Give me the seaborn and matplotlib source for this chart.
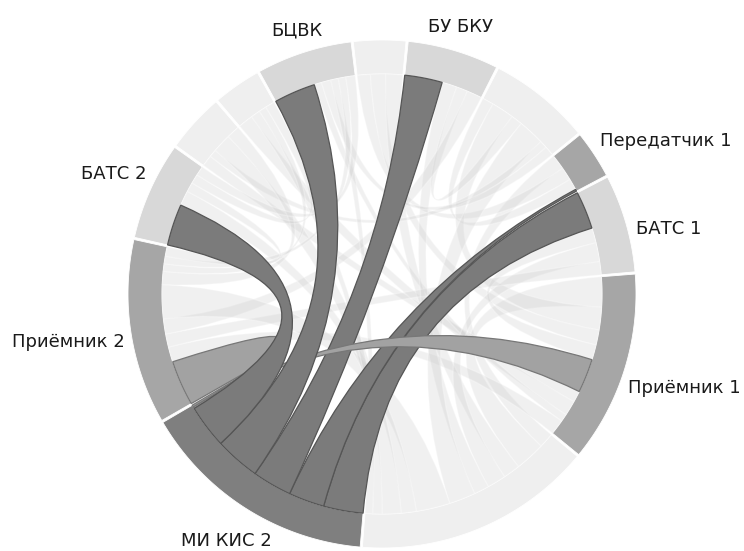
import numpy as np
import matplotlib
matplotlib.use("Agg")
import matplotlib.pyplot as plt
from matplotlib.path import Path
from matplotlib.patches import PathPatch, Polygon
import seaborn as sns

# groups, clockwise from the top (unnamed ones are the faded, unlabelled sectors)
groups = ["", "БУ БКУ", "", "Передатчик 1", "БАТС 1", "Приёмник 1", "",
          "МИ КИС 2", "Приёмник 2", "БАТС 2", "", "", "БЦВК"]
group_shade = ["light", "light", "light", "medium", "light", "medium", "light",
               "dark", "medium", "light", "light", "light", "light"]
focus = "МИ КИС 2"

# links: source group, target group, width at source end, width at target end
link_src = [7, 3, 3, 3, 7, 7, 7, 5, 5, 5, 5, 7, 5, 8,
            5, 5, 5, 5, 0, 4, 4, 1, 1, 1, 2, 2, 2,
            6, 6, 6, 6, 6, 8, 8, 8, 8, 9, 9]
link_dst = [4, 6, 0, 2, 3, 1, 12, 6, 2, 0, 4, 9, 7, 7,
            10, 11, 12, 8, 6, 6, 8, 6, 2, 8, 6, 10, 12,
            8, 9, 10, 11, 12, 10, 11, 12, 9, 11, 12]
link_w_src = [10.5, 4, 3.5, 3, 9.5, 10.5, 12, 8, 6, 4, 4, 11.5, 9, 12,
              3, 4, 2, 4, 4.5, 5, 3.5, 4, 3, 4, 7, 2, 2.5,
              9, 4, 5, 2.5, 2, 3.5, 2, 2, 2.5, 2.5, 2.5]
link_w_dst = [10, 4, 3.5, 3, 0.5, 10, 11, 8, 6, 4, 4, 11, 0.5, 0.5,
              3, 4, 2, 4, 4.5, 5, 3.5, 4, 3, 4, 7, 2, 2.5,
              9, 4, 5, 2.5, 2, 3.5, 2, 2, 2.5, 2.5, 2.5]

sns.set_theme(style="white")
plt.rcParams["font.family"] = ["DejaVu Sans"]

shade = dict(zip(["faded", "light", "medium", "dark"],
                 sns.color_palette(["#efefef", "#d8d8d8", "#a6a6a6", "#7f7f7f"])))
ribbon_fill = {"light": "#7b7b7b", "medium": "#a2a2a2", "dark": "#7b7b7b"}
ribbon_edge = {"light": "#555555", "medium": "#777777", "dark": "#555555"}

cx, cy = 382, 294
r_out, r_in = 254, 220
pad = 0.5
start = -6.5

n = len(groups)
fi = groups.index(focus)
totals = np.zeros(n)
for s, d, ws, wd in zip(link_src, link_dst, link_w_src, link_w_dst):
    totals[s] += ws
    totals[d] += wd
k = (360 - n * pad) / totals.sum()

g0 = np.zeros(n)
a = start
for i in range(n):
    g0[i] = a
    a += totals[i] * k + pad
g1 = g0 + totals * k

# each link takes the next free slot (clockwise) in both of its groups
cursor = g0.copy()
ends = []
for s, d, ws, wd in zip(link_src, link_dst, link_w_src, link_w_dst):
    se = (cursor[s], cursor[s] + ws * k)
    cursor[s] += ws * k
    de = (cursor[d], cursor[d] + wd * k)
    cursor[d] += wd * k
    ends.append((se, de))


def pt(ang, r):
    th = np.radians(ang)
    return (cx + r * np.sin(th), cy - r * np.cos(th))


def arc_pts(a0, a1, r):
    m = max(2, int(abs(a1 - a0) / 0.4) + 2)
    return [pt(x, r) for x in np.linspace(a0, a1, m)]


def ribbon(se, de):
    verts = arc_pts(se[0], se[1], r_in)
    codes = [Path.MOVETO] + [Path.LINETO] * (len(verts) - 1)
    verts += [(cx, cy), pt(de[0], r_in)]
    codes += [Path.CURVE3, Path.CURVE3]
    tv = arc_pts(de[0], de[1], r_in)[1:]
    verts += tv
    codes += [Path.LINETO] * len(tv)
    verts += [(cx, cy), pt(se[0], r_in), pt(se[0], r_in)]
    codes += [Path.CURVE3, Path.CURVE3, Path.CLOSEPOLY]
    return Path(verts, codes)


linked = {fi}
for s, d in zip(link_src, link_dst):
    if fi in (s, d):
        linked.update((s, d))

fig = plt.figure(figsize=(7.44, 5.51), dpi=100)
ax = fig.add_axes([0, 0, 1, 1])
ax.set_xlim(0, 744)
ax.set_ylim(551, 0)
ax.set_aspect("equal")
ax.axis("off")

# ring
for i in range(n):
    poly = arc_pts(g0[i], g1[i], r_out) + arc_pts(g1[i], g0[i], r_in)
    col = shade[group_shade[i]] if i in linked else shade["faded"]
    ax.add_patch(Polygon(poly, closed=True, facecolor=col, edgecolor="white", lw=0.6))

# faded chords
hl = []
for j, (s, d) in enumerate(zip(link_src, link_dst)):
    if fi in (s, d):
        hl.append(j)
        continue
    se, de = ends[j]
    ax.add_patch(PathPatch(ribbon(se, de), facecolor="#cccccc", alpha=0.28,
                           edgecolor="white", lw=1.0))

# highlighted chords: links to these groups are layered on top
on_top = [12, 9]
hl.sort(key=lambda j: (link_src[j] if link_dst[j] == fi else link_dst[j]) in on_top)
for j in hl:
    s, d = link_src[j], link_dst[j]
    big = s if link_w_src[j] >= link_w_dst[j] else d
    tone = group_shade[big]
    se, de = ends[j]
    ax.add_patch(PathPatch(ribbon(se, de), facecolor=ribbon_fill[tone],
                           edgecolor=ribbon_edge[tone], lw=0.9))

# labels
label_nudge = {"Передатчик 1": 5.0, "БАТС 1": 3.5}
fig.canvas.draw()
ren = fig.canvas.get_renderer()
for i in sorted(linked):
    mid = (g0[i] + g1[i]) / 2 + label_nudge.get(groups[i], 0.0)
    t = ax.text(0, 0, groups[i], fontsize=13, color="#1a1a1a", ha="center", va="center")
    bb = t.get_window_extent(ren)
    w, h = bb.width, bb.height
    th = np.radians(mid)
    rc = r_out + 6 + abs(np.sin(th)) * w / 2 + abs(np.cos(th)) * h / 2
    t.set_position(pt(mid, rc))

fig.savefig("out.png", dpi=100)
